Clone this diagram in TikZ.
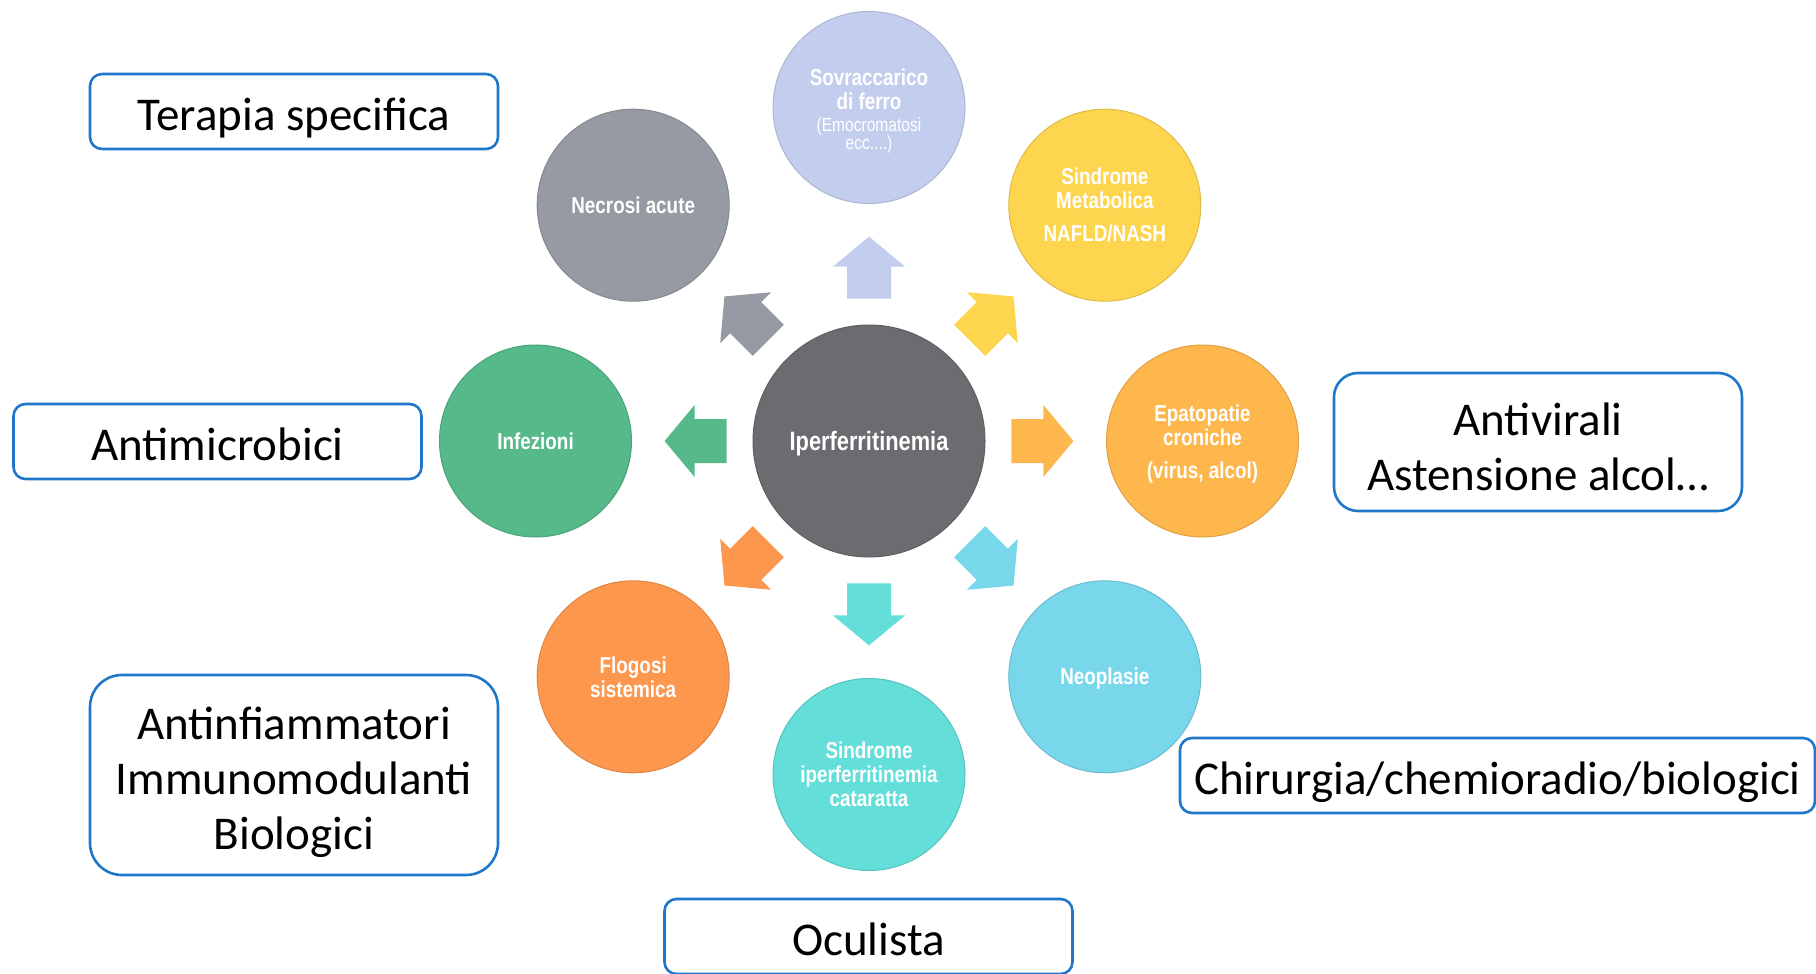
\documentclass[tikz,border=0pt]{standalone}
\usepackage{fontspec}
\setmainfont{Carlito}
\newfontfamily\circfont{Liberation Sans}[FakeStretch=0.82]
\usetikzlibrary{calc}
\definecolor{cCenter}{HTML}{6B6C70}
\definecolor{cTop}{HTML}{C3CEEE}
\definecolor{cNecr}{HTML}{969AA3}
\definecolor{cMeta}{HTML}{FDD54F}
\definecolor{cEpat}{HTML}{FDB74D}
\definecolor{cNeo}{HTML}{79D7EB}
\definecolor{cCat}{HTML}{63DED9}
\definecolor{cFlog}{HTML}{FD974D}
\definecolor{cInf}{HTML}{55B98A}
\definecolor{cBox}{HTML}{1F77C9}
\tikzset{
  sat/.style={circle, minimum size=96pt, inner sep=0pt, align=center, text=white,
    font=\circfont\bfseries\fontsize{11.5}{12}\selectfont,
    fill=#1, draw=#1!88!black, line width=0.5pt},
  hub/.style={circle, minimum size=116pt, inner sep=0pt, align=center, text=white,
    font=\circfont\bfseries\fontsize{13.3}{15}\selectfont,
    fill=#1, draw=#1!88!black, line width=0.5pt},
  ctext/.style={inner sep=0pt, align=center, text=white,
    font=\circfont\bfseries\fontsize{11.5}{12}\selectfont},
  tbox/.style={draw=cBox, line width=1.3pt, rounded corners=6pt,
    inner sep=0pt, minimum width=204pt, minimum height=37.5pt},
  btext/.style={inner sep=0pt, align=center, font=\fontsize{23.5}{27.5}\selectfont},
}
\newcommand{\smallnar}{\mdseries\fontsize{9.5}{9.5}\selectfont}
\begin{document}
\begin{tikzpicture}[x=0.5pt,y=-0.5pt]
\useasboundingbox (0,0) rectangle (1816,974);
\fill[white] (0,0) rectangle (1816,974);

% circles
\node[hub=cCenter] (C) at (869,441) {};
\node[ctext, font=\circfont\bfseries\fontsize{13.3}{15}\selectfont] (Ct) at ([yshift=-1.5pt]C.center) {Iperferritinemia};
\node[sat=cTop]  (S1) at (869,107.5) {};
\node[ctext] (S1t) at ([yshift=-1.6pt]S1.center) {Sovraccarico\\di ferro\\[-1pt]{\smallnar(Emocromatosi}\\[-3pt]{\smallnar ecc....)}};
\node[sat=cMeta] (S2) at (1104.8,205.2) {Sindrome\\Metabolica\\[4.5pt]NAFLD/NASH};
\node[sat=cEpat] (S3) at (1202.5,441) {};
\node[ctext] (S3t) at ([yshift=-1.4pt]S3.center) {Epatopatie\\croniche\\[4.5pt](virus, alcol)};
\node[sat=cNeo]  (S4) at (1104.8,676.8) {};
\node[ctext] (S4t) at ([yshift=-1pt]S4.center) {Neoplasie};
\node[sat=cCat]  (S5) at (869,774.5) {Sindrome\\iperferritinemia\\cataratta};
\node[sat=cFlog] (S6) at (633.2,676.8) {Flogosi\\sistemica};
\node[sat=cInf]  (S7) at (535.5,441) {Infezioni};
\node[sat=cNecr] (S8) at (633.2,205.2) {Necrosi acute};

% block arrows
\foreach \n/\a/\c in {S1/90/cTop, S2/45/cMeta, S3/0/cEpat, S4/-45/cNeo, S5/-90/cCat, S6/-135/cFlog, S7/180/cInf, S8/135/cNecr}{
  \fill[\c, shift={($(C)!0.52!(\n)$)}, rotate=\a]
    (-31,-22) -- (1,-22) -- (1,-36) -- (31,0) -- (1,36) -- (1,22) -- (-31,22) -- cycle;
}

% therapy boxes
\node[tbox] (T1) at (294,111.5) {};
\node[btext, anchor=base] (L1) at ([yshift=-9.3pt]T1.center) {Terapia specifica};
\node[tbox] (T2) at (217.5,441.5) {};
\node[btext, anchor=base] (L2) at ([yshift=-9.3pt]T2.center) {Antimicrobici};
\node[tbox, minimum height=100pt, rounded corners=16pt] (T3) at (294,775) {};
\node[btext] (L3) at ([yshift=-3.5pt]T3.center) {Antinfiammatori\\Immunomodulanti\\Biologici};
\node[tbox] (T4) at (868.5,936.5) {};
\node[btext, anchor=base] (L4) at ([yshift=-9.3pt]T4.center) {Oculista};
\node[tbox, minimum height=69pt, rounded corners=12pt] (T5) at (1538,442) {};
\node[btext] (L5) at ([yshift=-2.3pt]T5.center) {Antivirali\\Astensione alcol\ldots};
\node[tbox, minimum width=317.5pt] (T6) at (1497.5,775.5) {};
\node[btext, anchor=base] (L6) at ([yshift=-9.3pt]T6.center) {Chirurgia/chemioradio/biologici};
\end{tikzpicture}
\end{document}
